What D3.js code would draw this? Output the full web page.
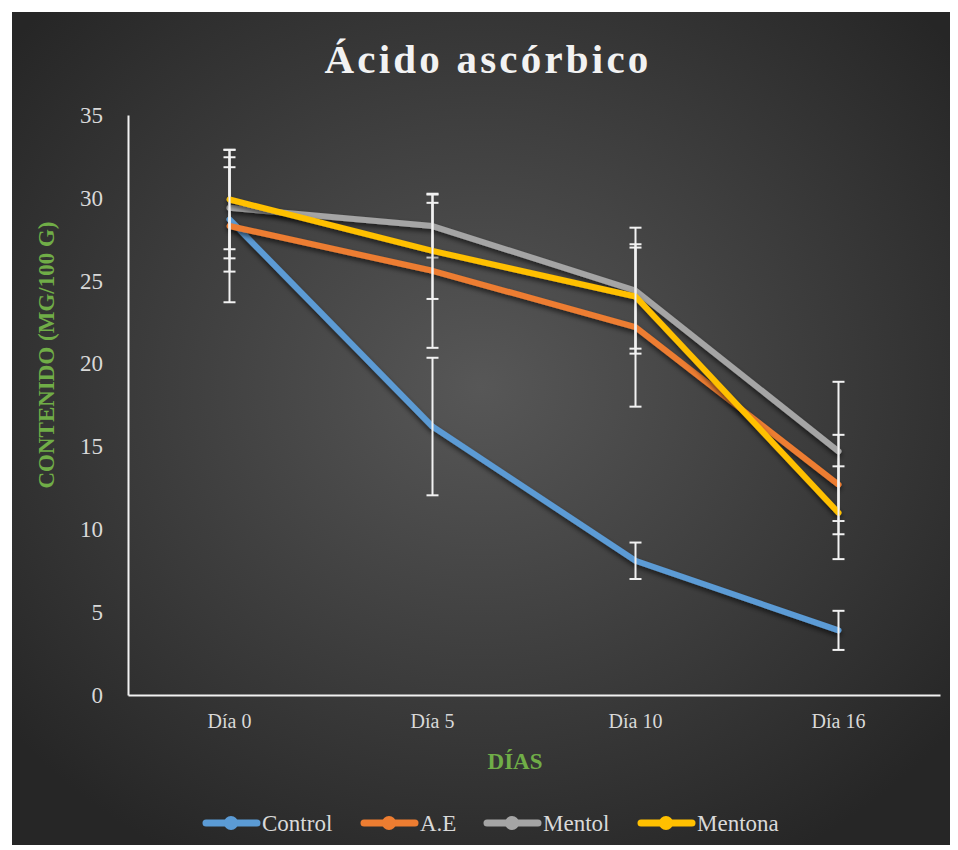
<!DOCTYPE html>
<html>
<head>
<meta charset="utf-8">
<script src="https://cdn.jsdelivr.net/npm/d3@7"></script>
<style>
  body { margin: 0; background: #fff; }
  svg { display: block; }
</style>
</head>
<body>
<div id="chart"></div>
<script>
// datos
var dias = ["Día 0", "Día 5", "Día 10", "Día 16"];
var series = ["Control", "A.E", "Mentol", "Mentona"];
var colores = ["#5b9bd5", "#ed7d31", "#a5a5a5", "#ffc000"];

var control = [28.7, 16.2, 8.1, 3.9];
var ae = [28.3, 25.6, 22.2, 12.7];
var mentol = [29.4, 28.3, 24.4, 14.7];
var mentona = [29.9, 26.8, 24.05, 11.0];

var errControl = [3.15, 4.15, 1.1, 1.18];
var errAe = [4.6, 4.65, 4.8, 3.0];
var errMentol = [3.05, 1.9, 3.8, 4.2];
var errMentona = [3.0, 2.9, 3.15, 2.8];

var yTicks = [0, 5, 10, 15, 20, 25, 30, 35];

var valores = [control, ae, mentol, mentona];
var errores = [errControl, errAe, errMentol, errMentona];

var W = 958, H = 850;

var svg = d3.select("#chart").append("svg")
  .attr("width", W)
  .attr("height", H);

var defs = svg.append("defs");
var grad = defs.append("radialGradient")
  .attr("id", "fondo")
  .attr("cx", "50%").attr("cy", "45%").attr("r", "65%");
grad.append("stop").attr("offset", "0%").attr("stop-color", "#575757");
grad.append("stop").attr("offset", "100%").attr("stop-color", "#262626");

var sombra = defs.append("filter").attr("id", "sombra")
  .attr("x", "-10%").attr("y", "-10%").attr("width", "120%").attr("height", "130%");
sombra.append("feDropShadow")
  .attr("dx", 0).attr("dy", 3).attr("stdDeviation", 2.5)
  .attr("flood-color", "#000").attr("flood-opacity", 0.6);

// fondo del grafico
svg.append("rect")
  .attr("x", 12).attr("y", 12)
  .attr("width", 938).attr("height", 833)
  .attr("fill", "url(#fondo)");

var x = d3.scaleBand().domain(dias).range([128, 940]);
var y = d3.scaleLinear().domain([0, 35]).range([695, 115]);

var font = "'Liberation Serif', 'Times New Roman', serif";

// titulo
svg.append("text")
  .attr("x", 488).attr("y", 73)
  .attr("text-anchor", "middle")
  .attr("font-family", font)
  .attr("font-weight", "bold")
  .attr("font-size", 41)
  .attr("letter-spacing", 3.2)
  .attr("fill", "#f2f2f2")
  .text("Ácido ascórbico");

// eje y
var yAxis = svg.append("g")
  .attr("transform", "translate(128,0)")
  .call(d3.axisLeft(y).tickValues(yTicks).tickSize(0).tickPadding(25));
yAxis.select(".domain").attr("stroke", "#f2f2f2").attr("stroke-width", 2);
yAxis.selectAll("text")
  .attr("font-family", font)
  .attr("font-size", 23)
  .attr("fill", "#d9d9d9");

// eje x
var xAxis = svg.append("g")
  .attr("transform", "translate(0,695)")
  .call(d3.axisBottom(x).tickSize(0).tickPadding(19));
xAxis.select(".domain").attr("stroke", "#f2f2f2").attr("stroke-width", 2);
xAxis.selectAll("text")
  .attr("font-family", font)
  .attr("font-size", 20)
  .attr("fill", "#d9d9d9");

// titulos de ejes
svg.append("text")
  .attr("transform", "translate(54,355) rotate(-90)")
  .attr("text-anchor", "middle")
  .attr("font-family", font)
  .attr("font-weight", "bold")
  .attr("font-size", 23)
  .attr("fill", "#70ad47")
  .text("CONTENIDO (MG/100 G)");

svg.append("text")
  .attr("x", 515).attr("y", 769)
  .attr("text-anchor", "middle")
  .attr("font-family", font)
  .attr("font-weight", "bold")
  .attr("font-size", 23)
  .attr("fill", "#70ad47")
  .text("DÍAS");

var cx = function (d, i) { return x(dias[i]) + x.bandwidth() / 2; };

var linea = d3.line()
  .x(function (d, i) { return cx(d, i); })
  .y(function (d) { return y(d); });

// lineas y barras de error por serie
series.forEach(function (s, k) {
  var g = svg.append("g");

  g.append("path")
    .datum(valores[k])
    .attr("d", linea)
    .attr("fill", "none")
    .attr("stroke", colores[k])
    .attr("stroke-width", 6)
    .attr("stroke-linejoin", "round")
    .attr("stroke-linecap", "round")
    .attr("filter", "url(#sombra)");

  var eb = g.selectAll(".eb")
    .data(valores[k])
    .enter().append("g");

  eb.append("line")
    .attr("x1", cx).attr("x2", cx)
    .attr("y1", function (d, i) { return y(d + errores[k][i]); })
    .attr("y2", function (d, i) { return y(d - errores[k][i]); })
    .attr("stroke", "#f2f2f2").attr("stroke-width", 2);

  [1, -1].forEach(function (sg) {
    eb.append("line")
      .attr("x1", function (d, i) { return cx(d, i) - 6; })
      .attr("x2", function (d, i) { return cx(d, i) + 6; })
      .attr("y1", function (d, i) { return y(d + sg * errores[k][i]); })
      .attr("y2", function (d, i) { return y(d + sg * errores[k][i]); })
      .attr("stroke", "#f2f2f2").attr("stroke-width", 2);
  });
});

// leyenda
var legX = [203, 361, 484, 638];
var leyenda = svg.selectAll(".leg")
  .data(series)
  .enter().append("g")
  .attr("transform", function (d, i) { return "translate(" + legX[i] + ",823)"; });

leyenda.append("line")
  .attr("x1", 3).attr("x2", 54)
  .attr("stroke", function (d, i) { return colores[i]; })
  .attr("stroke-width", 7)
  .attr("stroke-linecap", "round");

leyenda.append("circle")
  .attr("cx", 28).attr("r", 7)
  .attr("fill", function (d, i) { return colores[i]; });

leyenda.append("text")
  .attr("x", 59).attr("y", 8)
  .attr("font-family", font)
  .attr("font-size", 23)
  .attr("fill", "#d9d9d9")
  .text(function (d) { return d; });
</script>
</body>
</html>
